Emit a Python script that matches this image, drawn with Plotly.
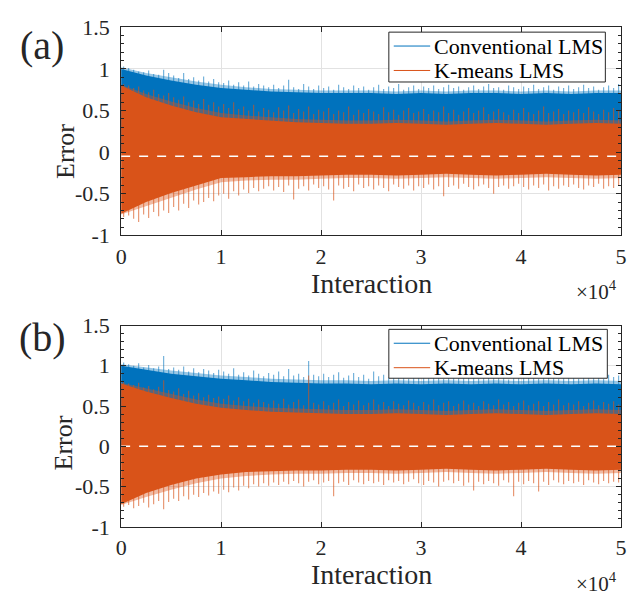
import plotly.graph_objects as go

# ---------------- data ----------------
iters_core = list(range(0, 50001, 2500))          # 21 envelope positions
iters_spike = list(range(250, 50000, 500))        # 100 spike positions

# Panel (a)
a_conv_top = [1.00, 0.92, 0.86, 0.81, 0.77, 0.75, 0.73, 0.72, 0.71, 0.71, 0.71,
              0.70, 0.71, 0.70, 0.71, 0.71, 0.70, 0.71, 0.70, 0.71, 0.71]
a_conv_fringe = [1.02, 0.95, 0.90, 0.85, 0.81, 0.78, 0.76, 0.75, 0.74, 0.74, 0.74,
                 0.73, 0.74, 0.73, 0.74, 0.74, 0.73, 0.74, 0.73, 0.74, 0.74]
a_km_top = [0.80, 0.66, 0.56, 0.48, 0.42, 0.40, 0.38, 0.36, 0.35, 0.34, 0.34,
            0.35, 0.34, 0.33, 0.34, 0.35, 0.34, 0.33, 0.34, 0.35, 0.34]
a_km_top_fringe = [0.81, 0.70, 0.61, 0.53, 0.47, 0.44, 0.42, 0.40, 0.39, 0.38, 0.38,
                   0.39, 0.38, 0.37, 0.38, 0.39, 0.38, 0.37, 0.38, 0.39, 0.38]
a_km_bot = [-0.74, -0.60, -0.49, -0.40, -0.31, -0.30, -0.29, -0.29, -0.28, -0.27, -0.27,
            -0.28, -0.27, -0.26, -0.27, -0.28, -0.27, -0.26, -0.27, -0.28, -0.27]
a_km_bot_fringe = [-0.75, -0.65, -0.55, -0.45, -0.36, -0.34, -0.33, -0.33, -0.32, -0.31, -0.31,
                   -0.32, -0.31, -0.30, -0.31, -0.32, -0.31, -0.30, -0.31, -0.32, -0.31]
a_conv_spk = [1.03, 1.01, 0.99, 0.97, 0.96, 0.98, 0.94, 0.93, 0.99, 0.95,
              0.92, 0.89, 0.95, 0.88, 0.90, 0.86, 0.91, 0.85, 0.88, 0.84,
              0.83, 0.86, 0.81, 0.84, 0.80, 0.85, 0.79, 0.82, 0.80, 0.78,
              0.81, 0.77, 0.80, 0.87, 0.78, 0.76, 0.82, 0.79, 0.76, 0.80,
              0.77, 0.79, 0.75, 0.81, 0.78, 0.76, 0.80, 0.77, 0.79, 0.75,
              0.78, 0.81, 0.76, 0.79, 0.77, 0.82, 0.75, 0.78, 0.80, 0.76,
              0.79, 0.77, 0.80, 0.76, 0.78, 0.81, 0.77, 0.79, 0.75, 0.78,
              0.80, 0.76, 0.79, 0.82, 0.77, 0.78, 0.75, 0.80, 0.78, 0.76,
              0.79, 0.77, 0.81, 0.76, 0.78, 0.80, 0.75, 0.79, 0.77, 0.80,
              0.76, 0.78, 0.81, 0.77, 0.79, 0.75, 0.78, 0.80, 0.77, 0.82]
a_km_top_spk = [0.82, 0.80, 0.77, 0.79, 0.74, 0.72, 0.75, 0.70, 0.68, 0.71,
                0.66, 0.63, 0.67, 0.60, 0.62, 0.58, 0.64, 0.57, 0.60, 0.55,
                0.58, 0.53, 0.60, 0.52, 0.55, 0.50, 0.57, 0.49, 0.53, 0.51,
                0.48, 0.54, 0.50, 0.56, 0.47, 0.52, 0.49, 0.55, 0.46, 0.51,
                0.49, 0.53, 0.46, 0.50, 0.48, 0.55, 0.45, 0.51, 0.47, 0.52,
                0.49, 0.46, 0.54, 0.48, 0.51, 0.45, 0.50, 0.53, 0.47, 0.49,
                0.52, 0.46, 0.50, 0.48, 0.55, 0.47, 0.51, 0.45, 0.49, 0.53,
                0.47, 0.50, 0.54, 0.46, 0.49, 0.52, 0.48, 0.45, 0.51, 0.47,
                0.53, 0.48, 0.46, 0.50, 0.55, 0.47, 0.49, 0.52, 0.46, 0.50,
                0.48, 0.52, 0.47, 0.54, 0.49, 0.46, 0.51, 0.48, 0.53, 0.50]
a_km_bot_spk = [-0.78, -0.76, -0.80, -0.84, -0.75, -0.79, -0.72, -0.77, -0.70, -0.73,
                -0.66, -0.70, -0.62, -0.67, -0.58, -0.63, -0.60, -0.55, -0.59, -0.52,
                -0.50, -0.56, -0.47, -0.52, -0.45, -0.49, -0.43, -0.47, -0.44, -0.41,
                -0.46, -0.42, -0.48, -0.40, -0.57, -0.44, -0.41, -0.46, -0.39, -0.43,
                -0.41, -0.45, -0.58, -0.40, -0.44, -0.42, -0.47, -0.39, -0.43, -0.41,
                -0.45, -0.40, -0.43, -0.47, -0.39, -0.42, -0.44, -0.40, -0.46, -0.41,
                -0.43, -0.39, -0.45, -0.41, -0.53, -0.42, -0.40, -0.44, -0.38, -0.42,
                -0.45, -0.41, -0.39, -0.43, -0.50, -0.42, -0.40, -0.44, -0.41, -0.38,
                -0.42, -0.45, -0.40, -0.43, -0.39, -0.46, -0.41, -0.44, -0.40, -0.42,
                -0.39, -0.43, -0.45, -0.40, -0.42, -0.38, -0.44, -0.41, -0.43, -0.40]
a_ref_level = -0.05

# Panel (b)
b_conv_top = [1.00, 0.95, 0.90, 0.87, 0.84, 0.82, 0.80, 0.79, 0.78, 0.78, 0.77,
              0.78, 0.77, 0.78, 0.77, 0.78, 0.77, 0.78, 0.77, 0.78, 0.77]
b_conv_fringe = [1.02, 0.98, 0.94, 0.91, 0.88, 0.86, 0.84, 0.83, 0.82, 0.82, 0.81,
                 0.82, 0.81, 0.82, 0.81, 0.82, 0.81, 0.82, 0.81, 0.82, 0.81]
b_km_top = [0.78, 0.68, 0.60, 0.53, 0.48, 0.45, 0.43, 0.42, 0.41, 0.40, 0.40,
            0.41, 0.40, 0.39, 0.40, 0.41, 0.40, 0.39, 0.40, 0.41, 0.40]
b_km_top_fringe = [0.79, 0.72, 0.65, 0.58, 0.53, 0.50, 0.48, 0.47, 0.46, 0.45, 0.45,
                   0.46, 0.45, 0.44, 0.45, 0.46, 0.45, 0.44, 0.45, 0.46, 0.45]
b_km_bot = [-0.72, -0.58, -0.48, -0.40, -0.35, -0.32, -0.31, -0.30, -0.30, -0.29, -0.29,
            -0.30, -0.29, -0.28, -0.29, -0.30, -0.29, -0.28, -0.29, -0.30, -0.29]
b_km_bot_fringe = [-0.73, -0.63, -0.54, -0.46, -0.40, -0.37, -0.35, -0.34, -0.34, -0.33, -0.33,
                   -0.34, -0.33, -0.32, -0.33, -0.34, -0.33, -0.32, -0.33, -0.34, -0.33]
b_conv_spk = [1.04, 1.02, 1.00, 1.03, 0.98, 1.01, 0.97, 0.99, 1.12, 0.96,
              0.98, 0.95, 0.99, 0.93, 0.97, 0.92, 0.96, 0.94, 0.91, 0.95,
              0.93, 0.90, 0.97, 0.89, 0.92, 0.88, 0.94, 0.90, 0.87, 0.91,
              0.89, 0.93, 0.87, 0.96, 0.88, 0.90, 0.86, 1.06, 0.89, 0.87,
              0.90, 0.86, 0.89, 0.92, 0.85, 0.88, 0.91, 0.86, 0.89, 0.84,
              0.93, 0.87, 0.89, 0.85, 0.91, 0.86, 0.88, 0.84, 0.90, 0.87,
              0.85, 0.89, 0.86, 0.91, 0.84, 0.88, 0.86, 0.90, 0.85, 0.87,
              0.89, 0.84, 0.87, 0.91, 0.85, 0.88, 0.86, 0.83, 0.89, 0.86,
              0.87, 0.85, 0.90, 0.84, 0.88, 0.86, 0.89, 0.84, 0.87, 0.85,
              0.88, 0.84, 0.86, 0.90, 0.85, 0.87, 0.84, 0.89, 0.86, 0.88]
b_km_top_spk = [0.80, 0.78, 0.76, 0.79, 0.73, 0.75, 0.71, 0.74, 0.82, 0.70,
                0.68, 0.72, 0.65, 0.69, 0.63, 0.66, 0.61, 0.64, 0.60, 0.62,
                0.59, 0.63, 0.57, 0.61, 0.56, 0.59, 0.54, 0.58, 0.55, 0.53,
                0.57, 0.53, 0.59, 0.52, 0.55, 0.58, 0.51, 0.88, 0.54, 0.52,
                0.56, 0.51, 0.54, 0.58, 0.50, 0.55, 0.52, 0.57, 0.51, 0.54,
                0.58, 0.52, 0.55, 0.50, 0.56, 0.53, 0.51, 0.57, 0.54, 0.50,
                0.55, 0.52, 0.58, 0.51, 0.54, 0.56, 0.50, 0.53, 0.57, 0.52,
                0.54, 0.50, 0.56, 0.53, 0.51, 0.58, 0.52, 0.55, 0.50, 0.54,
                0.57, 0.51, 0.53, 0.56, 0.50, 0.55, 0.52, 0.58, 0.51, 0.54,
                0.52, 0.56, 0.50, 0.54, 0.57, 0.51, 0.55, 0.53, 0.56, 0.52]
b_km_bot_spk = [-0.75, -0.73, -0.77, -0.74, -0.70, -0.76, -0.72, -0.68, -0.78, -0.69,
                -0.65, -0.68, -0.62, -0.66, -0.60, -0.63, -0.58, -0.61, -0.56, -0.59,
                -0.54, -0.57, -0.51, -0.55, -0.49, -0.52, -0.47, -0.50, -0.46, -0.49,
                -0.45, -0.48, -0.44, -0.47, -0.43, -0.46, -0.50, -0.44, -0.42, -0.47,
                -0.45, -0.43, -0.62, -0.46, -0.44, -0.48, -0.42, -0.45, -0.47, -0.43,
                -0.46, -0.44, -0.48, -0.42, -0.45, -0.43, -0.47, -0.44, -0.41, -0.46,
                -0.48, -0.43, -0.45, -0.50, -0.44, -0.42, -0.46, -0.43, -0.49, -0.45,
                -0.55, -0.44, -0.47, -0.43, -0.46, -0.49, -0.42, -0.45, -0.62, -0.44,
                -0.47, -0.43, -0.46, -0.56, -0.44, -0.48, -0.42, -0.45, -0.47, -0.43,
                -0.46, -0.44, -0.48, -0.42, -0.45, -0.47, -0.43, -0.46, -0.44, -0.45]
b_ref_level = 0.0

series_names = ["Conventional LMS", "K-means LMS"]
x_tick_vals = [0, 10000, 20000, 30000, 40000, 50000]
x_tick_text = ["0", "1", "2", "3", "4", "5"]
y_tick_vals = [-1, -0.5, 0, 0.5, 1, 1.5]
y_tick_text = ["-1", "-0.5", "0", "0.5", "1", "1.5"]

# ---------------- styling ----------------
W, H = 632, 606
BLUE = "#0072BD"
ORANGE = "#D95319"
BLUE_FR = "rgba(0,114,189,0.4)"
ORANGE_FR = "rgba(217,83,25,0.4)"
BLUE_SPK = "rgba(0,114,189,0.55)"
ORANGE_SPK = "rgba(217,83,25,0.6)"
INK = "#262626"
FONT = "Liberation Serif"


def spikes(xs, ys):
    sx, sy = [], []
    for x, y in zip(xs, ys):
        sx += [x, x, None]
        sy += [0, y, None]
    return sx, sy


fig = go.Figure()

panels = [
    ("x", "y", a_conv_top, a_conv_fringe, a_km_top, a_km_top_fringe, a_km_bot, a_km_bot_fringe,
     a_conv_spk, a_km_top_spk, a_km_bot_spk, a_ref_level),
    ("x2", "y2", b_conv_top, b_conv_fringe, b_km_top, b_km_top_fringe, b_km_bot, b_km_bot_fringe,
     b_conv_spk, b_km_top_spk, b_km_bot_spk, b_ref_level),
]

skip = dict(showlegend=False, hoverinfo="skip", mode="lines")
for (xa, ya, ctop, cfr, ktop, ktfr, kbot, kbfr, cspk, ktspk, kbspk, ref) in panels:
    # Conventional LMS: fringe, spikes, core
    fig.add_trace(go.Scatter(x=iters_core, y=cfr, xaxis=xa, yaxis=ya, line=dict(width=0),
                             fill="tozeroy", fillcolor=BLUE_FR, name=series_names[0], **skip))
    sx, sy = spikes(iters_spike, cspk)
    fig.add_trace(go.Scatter(x=sx, y=sy, xaxis=xa, yaxis=ya, name=series_names[0],
                             line=dict(color=BLUE_SPK, width=1.2), **skip))
    fig.add_trace(go.Scatter(x=iters_core, y=ctop, xaxis=xa, yaxis=ya, line=dict(width=0),
                             fill="tozeroy", fillcolor=BLUE, name=series_names[0], **skip))
    # K-means LMS: fringe, spikes, core
    fig.add_trace(go.Scatter(x=iters_core, y=kbfr, xaxis=xa, yaxis=ya, line=dict(width=0),
                             name=series_names[1], **skip))
    fig.add_trace(go.Scatter(x=iters_core, y=ktfr, xaxis=xa, yaxis=ya, line=dict(width=0),
                             fill="tonexty", fillcolor=ORANGE_FR, name=series_names[1], **skip))
    for arr in (ktspk, kbspk):
        sx, sy = spikes(iters_spike, arr)
        fig.add_trace(go.Scatter(x=sx, y=sy, xaxis=xa, yaxis=ya, name=series_names[1],
                                 line=dict(color=ORANGE_SPK, width=1.2), **skip))
    fig.add_trace(go.Scatter(x=iters_core, y=kbot, xaxis=xa, yaxis=ya, line=dict(width=0),
                             name=series_names[1], **skip))
    fig.add_trace(go.Scatter(x=iters_core, y=ktop, xaxis=xa, yaxis=ya, line=dict(width=0),
                             fill="tonexty", fillcolor=ORANGE, name=series_names[1], **skip))
    # dashed reference line
    fig.add_trace(go.Scatter(x=[x_tick_vals[0], x_tick_vals[-1]], y=[ref, ref], xaxis=xa, yaxis=ya,
                             line=dict(color="white", width=1.5, dash="dash"), **skip))


def px_x(p):
    return p / W


def px_y(p):
    return 1 - p / H


xaxis_common = dict(range=[0, 50000], tickmode="array", tickvals=x_tick_vals, ticktext=x_tick_text,
                    ticks="inside", ticklen=5, tickcolor=INK, showline=True, linecolor=INK,
                    linewidth=1, mirror="ticks", showgrid=True, gridcolor="#e2e2e2",
                    zeroline=False, tickfont=dict(family=FONT, size=22, color=INK),
                    ticklabelstandoff=1, domain=[px_x(118), px_x(626)])
yaxis_common = dict(range=[-1, 1.5], tickmode="array", tickvals=y_tick_vals, ticktext=y_tick_text,
                    ticks="inside", ticklen=5, tickcolor=INK, showline=True, linecolor=INK,
                    linewidth=1, mirror="allticks", showgrid=True, gridcolor="#e2e2e2",
                    zeroline=False, tickfont=dict(family=FONT, size=22, color=INK),
                    ticklabelstandoff=6,
                    minor=dict(ticks="inside", ticklen=3, tickcolor=INK, dtick=0.1, tick0=0,
                               showgrid=False))

fig.update_layout(
    width=W, height=H, autosize=False, showlegend=False,
    margin=dict(l=0, r=0, t=0, b=0),
    paper_bgcolor="white", plot_bgcolor="white",
    xaxis=dict(**xaxis_common, anchor="y"),
    yaxis=dict(**yaxis_common, anchor="x", domain=[px_y(233), px_y(16)]),
    xaxis2=dict(**xaxis_common, anchor="y2"),
    yaxis2=dict(**yaxis_common, anchor="x2", domain=[px_y(537), px_y(327)]),
)

# ---- legend boxes (MATLAB style: compact box, thin line samples) ----
legend_boxes = [(390, 610, 21, 73), (390, 612, 331, 382)]   # left, right, top, bottom (px)
for (l, r, t, b) in legend_boxes:
    fig.add_shape(type="rect", xref="paper", yref="paper",
                  x0=px_x(l), x1=px_x(r), y0=px_y(b), y1=px_y(t),
                  fillcolor="white", line=dict(color=INK, width=1), layer="above")
    for k, (name, col) in enumerate(zip(series_names, [BLUE, ORANGE])):
        yc = t + 14.5 + k * 25.5
        fig.add_shape(type="line", xref="paper", yref="paper",
                      x0=px_x(l + 5), x1=px_x(l + 42), y0=px_y(yc), y1=px_y(yc),
                      line=dict(color=col, width=1), layer="above")
        fig.add_annotation(text=name, x=px_x(l + 44), y=px_y(yc), xref="paper", yref="paper",
                           showarrow=False, xanchor="left", yanchor="middle",
                           font=dict(family=FONT, size=22, color="black"))

ann_font = dict(family=FONT, color=INK)
annotations = [
    dict(text="(a)", x=px_x(38), y=px_y(35), size=40),
    dict(text="(b)", x=px_x(38), y=px_y(339), size=40),
    dict(text="Error", x=px_x(62), y=px_y(146), size=26, angle=-90),
    dict(text="Error", x=px_x(59), y=px_y(450), size=26, angle=-90),
    dict(text="Interaction", x=px_x(372), y=px_y(283), size=28),
    dict(text="Interaction", x=px_x(372), y=px_y(587), size=28),
    dict(text="×10<sup>4</sup>", x=px_x(601), y=px_y(290), size=21),
    dict(text="×10<sup>4</sup>", x=px_x(601), y=px_y(595), size=21),
]
for a in annotations:
    fig.add_annotation(text=a["text"], x=a["x"], y=a["y"], xref="paper", yref="paper",
                       showarrow=False, xanchor="center", yanchor="middle",
                       textangle=a.get("angle", 0),
                       font=dict(**ann_font, size=a["size"]))

fig.write_html("out.html", config={"displayModeBar": False},
               post_script="document.body.style.margin='0';")
